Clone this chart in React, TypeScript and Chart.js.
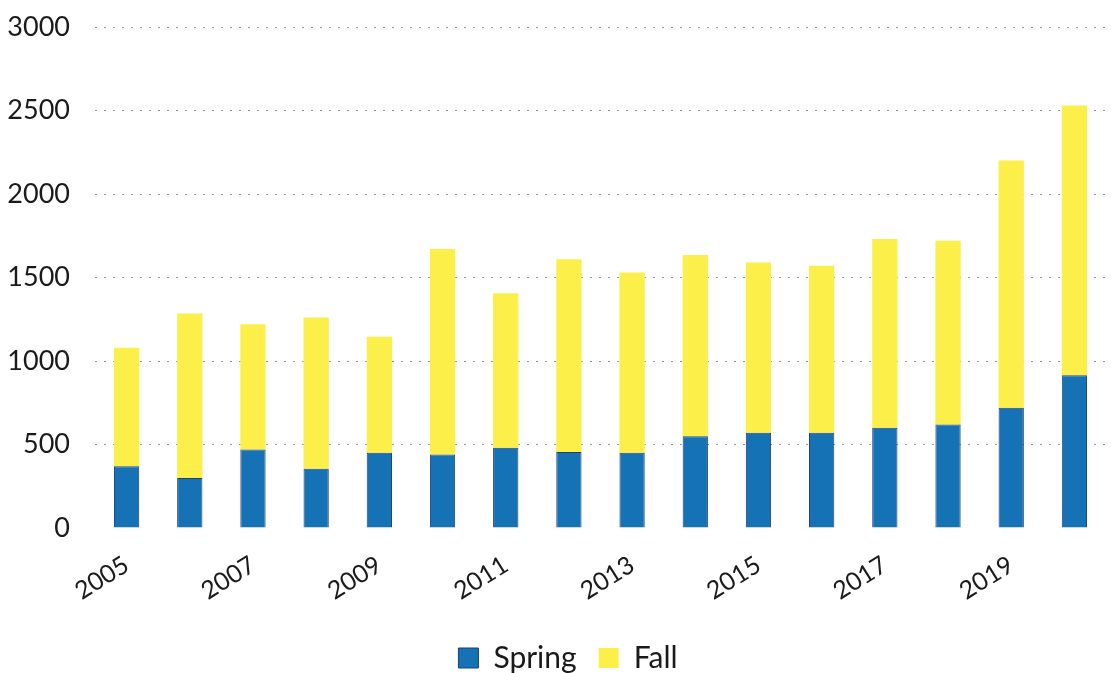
import React, { useEffect, useRef } from "react";
import { Chart, registerables } from "chart.js";

Chart.register(...registerables);

const years = ["2005","2006","2007","2008","2009","2010","2011","2012","2013","2014","2015","2016","2017","2018","2019","2020"];
const springValues = [370, 300, 470, 355, 450, 440, 480, 455, 450, 550, 570, 570, 600, 620, 720, 915];
const fallValues = [710, 985, 750, 905, 695, 1230, 925, 1155, 1080, 1085, 1020, 1000, 1130, 1100, 1480, 1615];
const yTicks = [0, 500, 1000, 1500, 2000, 2500, 3000];

const FONT = "Lato, 'Open Sans', sans-serif";

const legendShift = {
  id: "legendShift",
  afterLayout(chart: any) {
    if (chart.legend) {
      chart.legend.left += 15;
      chart.legend.right += 15;
    }
  },
};

export default function App() {
  const ref = useRef<HTMLCanvasElement | null>(null);
  useEffect(() => {
    if (!ref.current) return;
    const chart = new Chart(ref.current, {
      type: "bar",
      data: {
        labels: years,
        datasets: [
          {
            label: "Spring",
            data: springValues,
            backgroundColor: "#1572b5",
            borderColor: "#1d3f78",
            borderWidth: 1,
            barPercentage: 0.4,
            categoryPercentage: 1,
          },
          {
            label: "Fall",
            data: fallValues,
            backgroundColor: "#fcef4a",
            borderWidth: 0,
            barPercentage: 0.4,
            categoryPercentage: 1,
          },
        ],
      },
      options: {
        animation: false,
        responsive: true,
        maintainAspectRatio: false,
        layout: { padding: { top: 27, right: 14, left: 0, bottom: 0 } },
        plugins: {
          tooltip: { enabled: false },
          legend: {
            position: "bottom",
            labels: {
              font: { family: FONT, size: 30 },
              color: "#1a1a1a",
              boxWidth: 20,
              boxHeight: 20,
              padding: 22,
            },
          },
        },
        scales: {
          x: {
            stacked: true,
            grid: { display: false, drawTicks: false },
            border: { display: false },
            afterFit: (s: any) => { s.height = 93; s.paddingLeft = 0; s.paddingRight = 0; },
            ticks: {
              autoSkip: false,
              minRotation: 32,
              maxRotation: 32,
              padding: 22,
              color: "#1a1a1a",
              font: { family: FONT, size: 25 },
              callback: (_v: any, i: number) => (i % 2 === 0 ? years[i] : ""),
            },
          },
          y: {
            stacked: true,
            min: 0,
            max: 3000,
            afterFit: (s: any) => { s.width = 95; s.paddingTop = 0; s.paddingBottom = 0; },
            afterBuildTicks: (s: any) => { s.ticks = yTicks.map((v) => ({ value: v })); },
            grid: {
              drawTicks: false,
              color: (c: any) => (c.tick && c.tick.value === 0 ? "rgba(0,0,0,0)" : "rgba(60,60,60,0.55)"),
              lineWidth: 1,
            },
            border: { display: false, dash: [2, 7] },
            ticks: {
              padding: 25,
              color: "#1a1a1a",
              font: { family: FONT, size: 27 },
              callback: (v: any) => String(v),
            },
          },
        },
      },
      plugins: [legendShift],
    });
    return () => chart.destroy();
  }, []);
  return (
    <div style={{ position: "fixed", left: 0, top: 0, width: 1120, height: 683, background: "#fff" }}>
      <canvas ref={ref} />
    </div>
  );
}
